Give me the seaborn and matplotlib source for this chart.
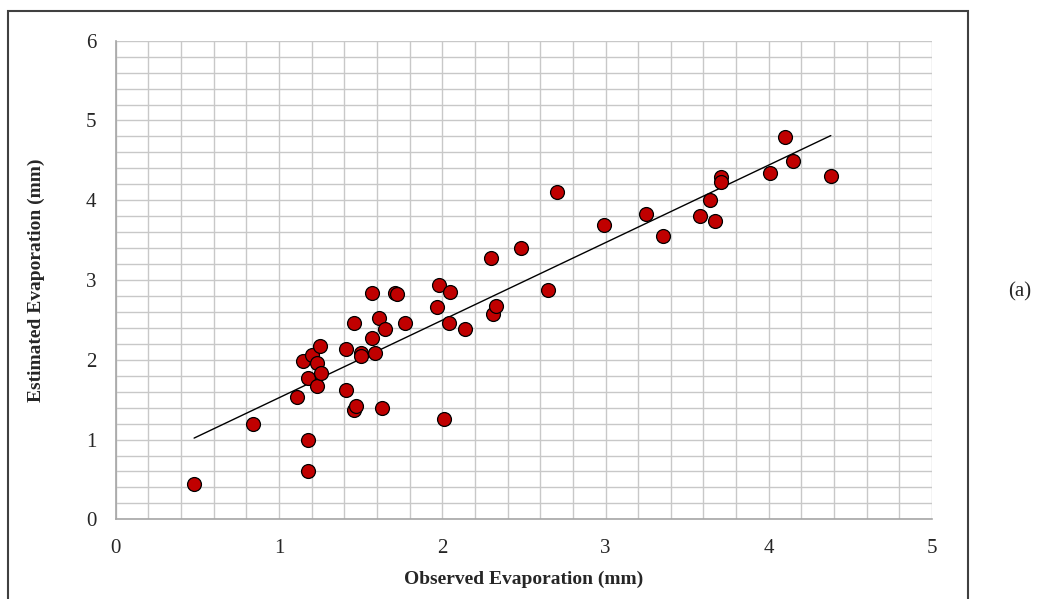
import numpy as np
import pandas as pd
import matplotlib
matplotlib.use('Agg')
import matplotlib.pyplot as plt
import seaborn as sns
from matplotlib.patches import Rectangle

# observed vs estimated evaporation (mm)
observed = [0.48, 0.84, 1.11, 1.18, 1.18, 1.15, 1.20, 1.23, 1.18, 1.23,
            1.26, 1.25, 1.41, 1.41, 1.46, 1.47, 1.46, 1.50, 1.50, 1.57,
            1.57, 1.59, 1.61, 1.65, 1.63, 1.71, 1.72, 1.77, 1.97, 1.98,
            2.01, 2.05, 2.04, 2.14, 2.30, 2.31, 2.33, 2.48, 2.65, 2.70,
            2.99, 3.25, 3.35, 3.58, 3.64, 3.67, 3.71, 3.71, 4.01, 4.10,
            4.15, 4.38]
estimated = [0.44, 1.19, 1.53, 0.99, 0.60, 1.98, 2.06, 1.96, 1.77, 1.67,
             1.83, 2.17, 1.62, 2.14, 1.37, 1.42, 2.46, 2.09, 2.05, 2.27,
             2.84, 2.08, 2.52, 2.39, 1.40, 2.84, 2.82, 2.46, 2.66, 2.94,
             1.26, 2.85, 2.46, 2.39, 3.27, 2.57, 2.68, 3.40, 2.88, 4.10,
             3.69, 3.83, 3.55, 3.80, 4.00, 3.74, 4.29, 4.23, 4.34, 4.79,
             4.49, 4.31]

x_ticks = [0, 1, 2, 3, 4, 5]
y_ticks = [0, 1, 2, 3, 4, 5, 6]

df = pd.DataFrame({'Observed': observed, 'Estimated': estimated})

# linear trendline (least squares) over the observed range
slope, intercept = np.polyfit(df['Observed'], df['Estimated'], 1)
trend = pd.DataFrame({'Observed': [df['Observed'].min(), df['Observed'].max()]})
trend['Estimated'] = slope * trend['Observed'] + intercept

sns.set_style('white')
plt.rcParams['font.family'] = ['Liberation Serif', 'DejaVu Serif']

fig = plt.figure(figsize=(10.38, 5.99), dpi=100)
ax = fig.add_axes([0.1115, 0.133, 0.7864, 0.799])

ax.set_axisbelow(True)
ax.set_xticks(np.arange(0, 5.01, 0.2), minor=True)
ax.set_yticks(np.arange(0, 6.01, 0.2), minor=True)
ax.grid(which='both', color='#c8c8c8', linewidth=1.0)

sns.lineplot(data=trend, x='Observed', y='Estimated', color='black',
             linewidth=1.0, ax=ax, zorder=2)
sns.scatterplot(data=df, x='Observed', y='Estimated', color='#c00000',
                edgecolor='black', linewidth=0.9, s=100, ax=ax, zorder=3)

ax.set_xlim(0, 5)
ax.set_ylim(0, 6)
ax.set_xticks(x_ticks)
ax.set_yticks(y_ticks)
ax.set_xticklabels([str(v) for v in x_ticks])
ax.set_yticklabels([str(v) for v in y_ticks])
ax.tick_params(axis='both', which='both', length=0, labelsize=15)
ax.tick_params(axis='x', pad=14)
ax.tick_params(axis='y', pad=14)

for side in ['top', 'right']:
    ax.spines[side].set_visible(False)
for side in ['left', 'bottom']:
    ax.spines[side].set_color('#a6a6a6')
    ax.spines[side].set_linewidth(1.2)

ax.set_xlabel('Observed Evaporation (mm)', fontsize=14, fontweight='bold')
ax.set_ylabel('Estimated Evaporation (mm)', fontsize=14, fontweight='bold')
ax.xaxis.set_label_coords(0.5, -0.108)
ax.yaxis.set_label_coords(-0.087, 0.5)

# outer chart frame
fig.patches.append(Rectangle((8 / 1038, -0.02), 960 / 1038, 1.02 - 11 / 599,
                             transform=fig.transFigure, fill=False,
                             edgecolor='#404040', linewidth=1.5))

fig.text(1020 / 1038, 1 - 292 / 599, '(a)', fontsize=15,
         ha='center', va='center')

fig.savefig('out.png', dpi=100)
